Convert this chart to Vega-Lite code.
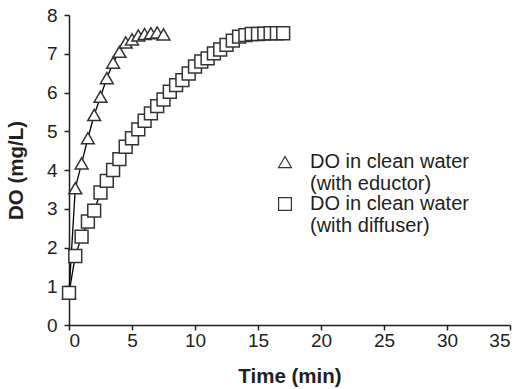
{
  "$schema": "https://vega.github.io/schema/vega-lite/v6.json",
  "width": 441,
  "height": 310,
  "autosize": "none",
  "padding": {"left": 69, "top": 15, "right": 12, "bottom": 64},
  "background": "white",
  "config": {
    "view": {"stroke": null},
    "font": "Liberation Sans",
    "legend": {"symbolStrokeWidth": 1.2, "symbolOpacity": 1},
    "axis": {
      "grid": false,
      "domainColor": "#231f20",
      "domainWidth": 1.5,
      "tickColor": "#231f20",
      "tickWidth": 1.5,
      "tickSize": 5,
      "labelFont": "Liberation Sans",
      "labelFontSize": 19,
      "labelColor": "#231f20",
      "titleFont": "Liberation Sans",
      "titleFontSize": 20.5,
      "titleFontWeight": "bold",
      "titleColor": "#231f20"
    }
  },
  "data": {
    "values": [
      {"series": "eductor", "t": 0, "DO": 0.83},
      {"series": "eductor", "t": 0.5, "DO": 3.53},
      {"series": "eductor", "t": 1, "DO": 4.17},
      {"series": "eductor", "t": 1.5, "DO": 4.82},
      {"series": "eductor", "t": 2, "DO": 5.42},
      {"series": "eductor", "t": 2.5, "DO": 5.89},
      {"series": "eductor", "t": 3, "DO": 6.37},
      {"series": "eductor", "t": 3.5, "DO": 6.77},
      {"series": "eductor", "t": 4, "DO": 7.05},
      {"series": "eductor", "t": 4.5, "DO": 7.29},
      {"series": "eductor", "t": 5, "DO": 7.37},
      {"series": "eductor", "t": 5.5, "DO": 7.47},
      {"series": "eductor", "t": 6, "DO": 7.51},
      {"series": "eductor", "t": 6.5, "DO": 7.53},
      {"series": "eductor", "t": 7, "DO": 7.55},
      {"series": "eductor", "t": 7.5, "DO": 7.5},
      {"series": "diffuser", "t": 0, "DO": 0.83},
      {"series": "diffuser", "t": 0.5, "DO": 1.78},
      {"series": "diffuser", "t": 1, "DO": 2.28},
      {"series": "diffuser", "t": 1.5, "DO": 2.67},
      {"series": "diffuser", "t": 2, "DO": 2.95},
      {"series": "diffuser", "t": 2.5, "DO": 3.42},
      {"series": "diffuser", "t": 3, "DO": 3.72},
      {"series": "diffuser", "t": 3.5, "DO": 4.0},
      {"series": "diffuser", "t": 4, "DO": 4.28},
      {"series": "diffuser", "t": 4.5, "DO": 4.6},
      {"series": "diffuser", "t": 5, "DO": 4.82},
      {"series": "diffuser", "t": 5.5, "DO": 5.05},
      {"series": "diffuser", "t": 6, "DO": 5.27},
      {"series": "diffuser", "t": 6.5, "DO": 5.46},
      {"series": "diffuser", "t": 7, "DO": 5.65},
      {"series": "diffuser", "t": 7.5, "DO": 5.82},
      {"series": "diffuser", "t": 8, "DO": 6.02},
      {"series": "diffuser", "t": 8.5, "DO": 6.19},
      {"series": "diffuser", "t": 9, "DO": 6.32},
      {"series": "diffuser", "t": 9.5, "DO": 6.49},
      {"series": "diffuser", "t": 10, "DO": 6.67},
      {"series": "diffuser", "t": 10.5, "DO": 6.8},
      {"series": "diffuser", "t": 11, "DO": 6.88},
      {"series": "diffuser", "t": 11.5, "DO": 7.01},
      {"series": "diffuser", "t": 12, "DO": 7.11},
      {"series": "diffuser", "t": 12.5, "DO": 7.23},
      {"series": "diffuser", "t": 13, "DO": 7.34},
      {"series": "diffuser", "t": 13.5, "DO": 7.44},
      {"series": "diffuser", "t": 14, "DO": 7.48},
      {"series": "diffuser", "t": 14.5, "DO": 7.51},
      {"series": "diffuser", "t": 15, "DO": 7.51},
      {"series": "diffuser", "t": 15.5, "DO": 7.52},
      {"series": "diffuser", "t": 16, "DO": 7.53},
      {"series": "diffuser", "t": 16.5, "DO": 7.53},
      {"series": "diffuser", "t": 17, "DO": 7.53}
    ]
  },
  "encoding": {
    "x": {
      "field": "t", "type": "quantitative",
      "scale": {"domain": [0, 35], "nice": false},
      "axis": {"title": "Time (min)", "values": [0, 5, 10, 15, 20, 25, 30, 35], "labelPadding": 1, "titlePadding": 16}
    },
    "y": {
      "field": "DO", "type": "quantitative",
      "scale": {"domain": [0, 8], "nice": false},
      "axis": {"title": "DO (mg/L)", "values": [0, 1, 2, 3, 4, 5, 6, 7, 8], "labelPadding": 7, "titlePadding": 20}
    }
  },
  "layer": [
    {
      "mark": {"type": "line", "color": "#000000", "strokeWidth": 1.3},
      "encoding": {"detail": {"field": "series"}}
    },
    {
      "mark": {"type": "point", "color": "#333333", "fill": "white", "stroke": "#333333", "strokeWidth": 1.5, "opacity": 1, "filled": true, "size": 165},
      "encoding": {
        "shape": {
          "field": "series", "type": "nominal",
          "scale": {"domain": ["eductor", "diffuser"], "range": ["triangle-up", "square"]},
          "legend": {
            "orient": "none",
            "legendX": 206,
            "legendY": 137,
            "title": null,
            "padding": 0,
            "symbolSize": 165,
            "labelFont": "Liberation Sans",
            "labelFontSize": 20,
            "labelColor": "#231f20",
            "labelOffset": 15,
            "labelLimit": 400,
            "rowPadding": -2,
            "labelExpr": "datum.value == 'eductor' ? ['DO in clean water', '(with eductor)'] : ['DO in clean water', '(with diffuser)']",
            "encode": {
              "symbols": {
                "stroke": {"value": "#231f20"},
                "fill": {"value": "white"},
                "strokeWidth": {"value": 1.2},
                "opacity": {"value": 1}
              }
            }
          }
        }
      }
    }
  ]
}
